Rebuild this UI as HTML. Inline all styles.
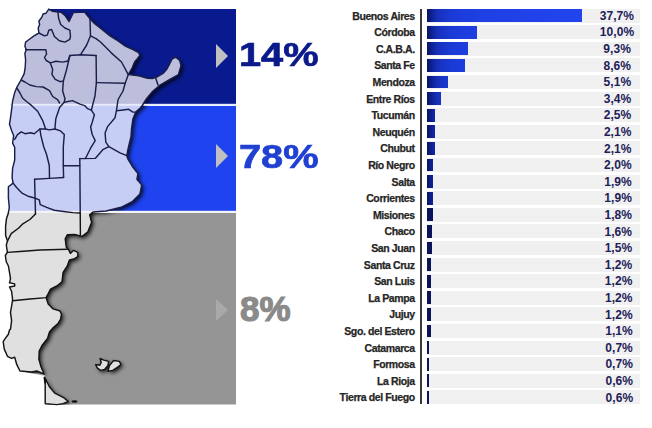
<!DOCTYPE html>
<html><head><meta charset="utf-8">
<style>
html,body{margin:0;padding:0;background:#fff;}
body{width:652px;height:428px;position:relative;overflow:hidden;font-family:"Liberation Sans",sans-serif;}
.band{position:absolute;left:427px;width:213px;height:14.2px;background:#f0f0f0;}
.bar{position:absolute;left:427.1px;height:12.8px;background:linear-gradient(to right,#081560 0px,#0e1e8c 4px,#1530b8 10px,#1b3bd8 25px,#1f40e4 60px,#2244ee 155px);background-size:155px 100%;background-repeat:no-repeat;}
.lab{position:absolute;right:237.3px;-webkit-text-stroke:0.25px #262626;font-weight:bold;font-size:10.5px;letter-spacing:-0.4px;line-height:16px;color:#262626;white-space:nowrap;}
.val{position:absolute;transform:translateX(-50%);font-weight:bold;font-size:12px;letter-spacing:0.05px;line-height:16px;color:#1c2158;white-space:nowrap;}
.axis{position:absolute;left:420.4px;top:9px;width:1.7px;height:395px;background:#383838;}
.rect{position:absolute;left:48px;width:188px;}
.pct{position:absolute;font-weight:bold;white-space:nowrap;transform-origin:0 0;-webkit-text-stroke:0.7px currentColor;}
.tri{position:absolute;width:0;height:0;border-top:12.3px solid transparent;border-bottom:12.3px solid transparent;border-left:12.5px solid #c0c0c2;}
</style></head><body>
<div class="rect" style="top:9px;height:95px;background:#091a8e"></div>
<div class="rect" style="top:105.7px;height:105px;background:#1e43ef"></div>
<svg style="position:absolute;left:0;top:0" width="652" height="428"><path d="M20 213 H236 V404.5 H45 V376 L44 374 L20 371 Z" fill="#959595"/></svg>
<svg width="652" height="428" style="position:absolute;left:0;top:0">
<defs>
<linearGradient id="mf" x1="0" y1="0" x2="0" y2="428" gradientUnits="userSpaceOnUse">
<stop offset="0" stop-color="#bcbedc"/><stop offset="0.2442" stop-color="#bcbedc"/>
<stop offset="0.2442" stop-color="#c6cef6"/><stop offset="0.4953" stop-color="#c6cef6"/>
<stop offset="0.4953" stop-color="#e0e0e0"/><stop offset="1" stop-color="#e0e0e0"/>
</linearGradient>
<filter id="sh" x="-20%" y="-20%" width="140%" height="140%">
<feGaussianBlur in="SourceAlpha" stdDeviation="2.2"/>
<feOffset dx="2" dy="2" result="b"/>
<feComponentTransfer><feFuncA type="linear" slope="0.9"/></feComponentTransfer>
</filter>
<linearGradient id="sg" x1="0" y1="0" x2="0" y2="428" gradientUnits="userSpaceOnUse"><stop offset="0" stop-color="#1a1f4a"/><stop offset="0.495" stop-color="#1a1f4a"/><stop offset="0.495" stop-color="#141418"/><stop offset="1" stop-color="#141418"/></linearGradient>
<clipPath id="rc"><path d="M48 9 H236 V404.5 H45 V376 L20 371 V213 H48 Z"/></clipPath>
</defs>
<g clip-path="url(#rc)" filter="url(#sh)">
<path d="M48.8 9.1 L52.3 11.2 L58.0 12.0 L61.0 12.2 L64.9 15.4 L69.1 21.5 L73.3 12.6 L84.5 12.1 L90.0 18.9 L95.0 23.9 L102.0 29.5 L110.0 36.0 L118.0 41.0 L125.7 46.3 L133.0 49.5 L138.6 52.7 L139.8 55.3 L137.5 58.5 L134.7 61.7 L132.1 68.1 L128.3 74.6 L138.6 75.8 L147.6 78.4 L152.4 78.5 L158.0 76.5 L163.0 73.5 L167.0 69.0 L169.4 64.3 L172.0 59.1 L175.8 57.1 L179.7 60.4 L181.0 65.6 L178.4 74.6 L169.4 79.7 L160.4 84.8 L152.7 91.3 L146.3 99.0 L142.6 105.0 L140.5 107.8 L135.7 112.1 L132.9 119.1 L131.5 128.8 L131.0 136.8 L128.9 145.2 L127.6 151.2 L126.8 155.7 L127.8 158.9 L132.2 166.2 L137.9 173.6 L136.9 179.3 L141.6 184.9 L140.5 191.5 L139.7 194.2 L132.2 201.7 L121.0 207.3 L106.1 211.0 L93.0 212.0 L89.7 214.9 L91.6 222.3 L87.9 231.7 L82.2 236.4 L74.8 234.5 L67.3 234.7 L65.2 238.9 L66.3 247.3 L68.3 249.2 L70.4 253.4 L73.6 250.3 L77.8 252.4 L77.8 256.6 L74.6 258.7 L70.4 259.7 L69.4 259.9 L67.3 266.0 L63.1 272.3 L62.0 281.8 L56.8 286.0 L50.5 289.2 L47.3 295.5 L46.1 297.5 L48.2 304.0 L53.1 308.9 L60.1 311.0 L61.5 314.5 L60.6 319.0 L58.0 323.5 L53.1 327.8 L49.5 332.0 L47.5 338.5 L42.0 345.5 L39.2 351.0 L38.9 359.4 L41.0 366.8 L44.2 374.2 L36.8 371.0 L31.5 372.0 L20.0 371.0 L16.8 364.7 L14.7 357.3 L11.6 358.4 L7.4 356.3 L4.2 348.9 L3.2 341.6 L5.3 338.4 L8.4 334.2 L9.5 330.0 L10.5 329.1 L11.6 320.7 L10.5 312.3 L11.6 306.0 L12.6 299.7 L11.6 291.3 L9.5 287.0 L14.7 286.0 L14.7 283.9 L9.5 282.8 L10.5 278.6 L9.5 272.3 L8.4 266.0 L6.3 261.8 L5.3 255.5 L7.4 252.4 L6.3 245.0 L7.5 241.0 L5.6 235.4 L5.6 226.1 L6.5 218.6 L8.4 213.0 L9.3 207.4 L8.4 198.0 L8.4 186.8 L13.1 183.1 L12.1 177.5 L12.6 168.4 L14.7 160.0 L14.7 147.3 L12.6 143.1 L13.7 135.7 L11.6 130.5 L9.5 124.2 L10.5 117.8 L11.6 109.4 L12.6 101.0 L14.7 92.6 L16.8 87.4 L21.0 80.0 L24.2 73.6 L25.2 67.3 L25.6 60.0 L24.9 53.3 L26.3 49.8 L24.9 46.3 L25.6 42.1 L28.4 40.0 L34.0 35.8 L38.9 33.0 L38.2 28.0 L39.6 24.5 L38.9 21.0 L41.7 17.5 L43.1 14.0 L45.9 13.3 Z" fill="#000"/>
<path d="M44.2 377.5 L46.3 380.5 L49.4 386.8 L54.7 393.1 L63.1 397.3 L68.3 401.5 L63.1 403.6 L56.8 404.6 L45.2 403.6 L45.2 384.7 Z" fill="#000"/>
<path d="M95.6 364.6 L97.3 364.8 L99.7 365.3 L101.2 362.5 L100.1 358.5 L103.8 360.1 L108.7 361.4 L107.9 365.5 L104.6 369.5 L100.5 370.4 L97.3 367.9 Z" fill="#000"/>
<path d="M107.9 371.2 L109.5 365.5 L113.6 360.5 L119.4 361.4 L121.0 364.6 L117.7 367.1 L112.8 370.4 Z" fill="#000"/>
</g>
<g fill="url(#mf)" stroke="none">
<path d="M48.8 9.1 L52.3 11.2 L58.0 12.0 L61.0 12.2 L64.9 15.4 L69.1 21.5 L73.3 12.6 L84.5 12.1 L90.0 18.9 L95.0 23.9 L102.0 29.5 L110.0 36.0 L118.0 41.0 L125.7 46.3 L133.0 49.5 L138.6 52.7 L139.8 55.3 L137.5 58.5 L134.7 61.7 L132.1 68.1 L128.3 74.6 L138.6 75.8 L147.6 78.4 L152.4 78.5 L158.0 76.5 L163.0 73.5 L167.0 69.0 L169.4 64.3 L172.0 59.1 L175.8 57.1 L179.7 60.4 L181.0 65.6 L178.4 74.6 L169.4 79.7 L160.4 84.8 L152.7 91.3 L146.3 99.0 L142.6 105.0 L140.5 107.8 L135.7 112.1 L132.9 119.1 L131.5 128.8 L131.0 136.8 L128.9 145.2 L127.6 151.2 L126.8 155.7 L127.8 158.9 L132.2 166.2 L137.9 173.6 L136.9 179.3 L141.6 184.9 L140.5 191.5 L139.7 194.2 L132.2 201.7 L121.0 207.3 L106.1 211.0 L93.0 212.0 L89.7 214.9 L91.6 222.3 L87.9 231.7 L82.2 236.4 L74.8 234.5 L67.3 234.7 L65.2 238.9 L66.3 247.3 L68.3 249.2 L70.4 253.4 L73.6 250.3 L77.8 252.4 L77.8 256.6 L74.6 258.7 L70.4 259.7 L69.4 259.9 L67.3 266.0 L63.1 272.3 L62.0 281.8 L56.8 286.0 L50.5 289.2 L47.3 295.5 L46.1 297.5 L48.2 304.0 L53.1 308.9 L60.1 311.0 L61.5 314.5 L60.6 319.0 L58.0 323.5 L53.1 327.8 L49.5 332.0 L47.5 338.5 L42.0 345.5 L39.2 351.0 L38.9 359.4 L41.0 366.8 L44.2 374.2 L36.8 371.0 L31.5 372.0 L20.0 371.0 L16.8 364.7 L14.7 357.3 L11.6 358.4 L7.4 356.3 L4.2 348.9 L3.2 341.6 L5.3 338.4 L8.4 334.2 L9.5 330.0 L10.5 329.1 L11.6 320.7 L10.5 312.3 L11.6 306.0 L12.6 299.7 L11.6 291.3 L9.5 287.0 L14.7 286.0 L14.7 283.9 L9.5 282.8 L10.5 278.6 L9.5 272.3 L8.4 266.0 L6.3 261.8 L5.3 255.5 L7.4 252.4 L6.3 245.0 L7.5 241.0 L5.6 235.4 L5.6 226.1 L6.5 218.6 L8.4 213.0 L9.3 207.4 L8.4 198.0 L8.4 186.8 L13.1 183.1 L12.1 177.5 L12.6 168.4 L14.7 160.0 L14.7 147.3 L12.6 143.1 L13.7 135.7 L11.6 130.5 L9.5 124.2 L10.5 117.8 L11.6 109.4 L12.6 101.0 L14.7 92.6 L16.8 87.4 L21.0 80.0 L24.2 73.6 L25.2 67.3 L25.6 60.0 L24.9 53.3 L26.3 49.8 L24.9 46.3 L25.6 42.1 L28.4 40.0 L34.0 35.8 L38.9 33.0 L38.2 28.0 L39.6 24.5 L38.9 21.0 L41.7 17.5 L43.1 14.0 L45.9 13.3 Z"/>
<path d="M44.2 377.5 L46.3 380.5 L49.4 386.8 L54.7 393.1 L63.1 397.3 L68.3 401.5 L63.1 403.6 L56.8 404.6 L45.2 403.6 L45.2 384.7 Z"/>
<path d="M95.6 364.6 L97.3 364.8 L99.7 365.3 L101.2 362.5 L100.1 358.5 L103.8 360.1 L108.7 361.4 L107.9 365.5 L104.6 369.5 L100.5 370.4 L97.3 367.9 Z"/>
<path d="M107.9 371.2 L109.5 365.5 L113.6 360.5 L119.4 361.4 L121.0 364.6 L117.7 367.1 L112.8 370.4 Z"/>
</g>
<rect x="10" y="103.8" width="226" height="1.9" fill="#e8ecfa"/>
<rect x="6" y="210.8" width="230" height="2.2" fill="#f4f4f8"/>
<g fill="none" stroke="url(#sg)" stroke-width="1.45" stroke-linejoin="round" stroke-linecap="round">
<path d="M48.8 9.1 L52.3 11.2 L58.0 12.0 L61.0 12.2 L64.9 15.4 L69.1 21.5 L73.3 12.6 L84.5 12.1 L90.0 18.9 L95.0 23.9 L102.0 29.5 L110.0 36.0 L118.0 41.0 L125.7 46.3 L133.0 49.5 L138.6 52.7 L139.8 55.3 L137.5 58.5 L134.7 61.7 L132.1 68.1 L128.3 74.6 L138.6 75.8 L147.6 78.4 L152.4 78.5 L158.0 76.5 L163.0 73.5 L167.0 69.0 L169.4 64.3 L172.0 59.1 L175.8 57.1 L179.7 60.4 L181.0 65.6 L178.4 74.6 L169.4 79.7 L160.4 84.8 L152.7 91.3 L146.3 99.0 L142.6 105.0 L140.5 107.8 L135.7 112.1 L132.9 119.1 L131.5 128.8 L131.0 136.8 L128.9 145.2 L127.6 151.2 L126.8 155.7 L127.8 158.9 L132.2 166.2 L137.9 173.6 L136.9 179.3 L141.6 184.9 L140.5 191.5 L139.7 194.2 L132.2 201.7 L121.0 207.3 L106.1 211.0 L93.0 212.0 L89.7 214.9 L91.6 222.3 L87.9 231.7 L82.2 236.4 L74.8 234.5 L67.3 234.7 L65.2 238.9 L66.3 247.3 L68.3 249.2 L70.4 253.4 L73.6 250.3 L77.8 252.4 L77.8 256.6 L74.6 258.7 L70.4 259.7 L69.4 259.9 L67.3 266.0 L63.1 272.3 L62.0 281.8 L56.8 286.0 L50.5 289.2 L47.3 295.5 L46.1 297.5 L48.2 304.0 L53.1 308.9 L60.1 311.0 L61.5 314.5 L60.6 319.0 L58.0 323.5 L53.1 327.8 L49.5 332.0 L47.5 338.5 L42.0 345.5 L39.2 351.0 L38.9 359.4 L41.0 366.8 L44.2 374.2 L36.8 371.0 L31.5 372.0 L20.0 371.0 L16.8 364.7 L14.7 357.3 L11.6 358.4 L7.4 356.3 L4.2 348.9 L3.2 341.6 L5.3 338.4 L8.4 334.2 L9.5 330.0 L10.5 329.1 L11.6 320.7 L10.5 312.3 L11.6 306.0 L12.6 299.7 L11.6 291.3 L9.5 287.0 L14.7 286.0 L14.7 283.9 L9.5 282.8 L10.5 278.6 L9.5 272.3 L8.4 266.0 L6.3 261.8 L5.3 255.5 L7.4 252.4 L6.3 245.0 L7.5 241.0 L5.6 235.4 L5.6 226.1 L6.5 218.6 L8.4 213.0 L9.3 207.4 L8.4 198.0 L8.4 186.8 L13.1 183.1 L12.1 177.5 L12.6 168.4 L14.7 160.0 L14.7 147.3 L12.6 143.1 L13.7 135.7 L11.6 130.5 L9.5 124.2 L10.5 117.8 L11.6 109.4 L12.6 101.0 L14.7 92.6 L16.8 87.4 L21.0 80.0 L24.2 73.6 L25.2 67.3 L25.6 60.0 L24.9 53.3 L26.3 49.8 L24.9 46.3 L25.6 42.1 L28.4 40.0 L34.0 35.8 L38.9 33.0 L38.2 28.0 L39.6 24.5 L38.9 21.0 L41.7 17.5 L43.1 14.0 L45.9 13.3 Z"/>
<path d="M44.2 377.5 L46.3 380.5 L49.4 386.8 L54.7 393.1 L63.1 397.3 L68.3 401.5 L63.1 403.6 L56.8 404.6 L45.2 403.6 L45.2 384.7 Z"/>
<path d="M95.6 364.6 L97.3 364.8 L99.7 365.3 L101.2 362.5 L100.1 358.5 L103.8 360.1 L108.7 361.4 L107.9 365.5 L104.6 369.5 L100.5 370.4 L97.3 367.9 Z"/>
<path d="M107.9 371.2 L109.5 365.5 L113.6 360.5 L119.4 361.4 L121.0 364.6 L117.7 367.1 L112.8 370.4 Z"/>
<path d="M57.9 12.0 L58.6 18.2 L60.7 24.5 L64.9 28.0 L69.8 30.2 L70.5 36.5 L69.8 39.3 L64.9 42.1 L59.3 40.7 L54.4 36.5 L51.6 29.5 L48.8 30.2 L47.3 35.1 L44.5 35.8 L38.9 33.0"/>
<path d="M90.0 18.9 L90.5 35.8 L86.7 45.0 L80.6 54.7"/>
<path d="M90.5 35.8 L96.0 38.6 L100.5 42.0 L111.0 52.6 L121.5 62.0 L128.3 74.6"/>
<path d="M25.6 49.8 L45.9 49.8 L46.6 54.0 L44.5 57.5 L46.2 60.5 L50.3 62.9 L56.0 61.3 L62.6 62.1 L68.0 61.0 L69.9 55.5 L80.6 54.7 L96.1 55.5"/>
<path d="M69.9 55.5 L66.6 69.5 L63.4 80.9 L62.6 90.7 L65.0 98.9 L64.2 102.2 L59.6 107.5 L55.8 118.7 L54.9 129.0"/>
<path d="M50.3 62.9 L52.7 69.5 L51.9 74.4 L55.2 79.3 L60.1 81.7 L63.4 80.9"/>
<path d="M21.0 80.0 L24.9 82.0 L29.8 85.0 L36.4 86.6 L43.0 87.0 L49.5 90.7 L52.7 96.5 L57.6 99.7 L59.6 103.0"/>
<path d="M16.8 88.0 L20.0 93.0 L22.5 98.0 L26.5 101.5 L31.5 105.4 L37.8 111.5 L42.7 120.6 L45.6 129.0 L49.3 129.9 L54.9 129.0"/>
<path d="M14.7 139.3 L17.5 134.6 L21.2 131.8 L25.0 133.7 L30.6 132.7 L34.3 133.7 L39.9 129.0 L45.6 129.0"/>
<path d="M39.9 129.0 L40.9 135.6 L43.7 146.8 L46.5 154.3 L49.3 165.5 L49.5 178.4"/>
<path d="M54.9 129.0 L60.5 130.9 L64.3 134.6 L63.3 146.8 L63.3 165.5 L63.6 177.5"/>
<path d="M34.6 179.3 L49.5 178.4 L63.6 177.5"/>
<path d="M34.6 179.3 L35.5 213.9"/>
<path d="M63.3 165.8 L79.8 165.8"/>
<path d="M79.8 158.6 L80.4 235.4"/>
<path d="M79.8 158.6 L95.2 158.4 L102.8 149.7 L108.9 146.7 L120.0 152.8 L126.8 155.7"/>
<path d="M91.4 110.2 L94.4 114.8 L92.2 122.4 L90.6 126.9 L92.2 134.5 L95.2 140.6 L90.6 148.2 L86.1 157.3 L85.0 158.6"/>
<path d="M64.2 102.2 L72.4 100.6 L80.0 104.1 L84.6 105.6 L87.6 108.7 L91.4 110.2"/>
<path d="M96.1 55.5 L96.4 82.6 L95.0 96.0 L92.9 104.1 L91.4 110.2"/>
<path d="M96.4 82.6 L125.2 83.3 L128.3 74.6"/>
<path d="M125.2 83.3 L123.0 91.0 L118.1 99.5 L116.5 110.2 L115.0 117.8 L107.4 126.9 L105.1 133.0 L105.8 142.1 L108.9 146.7"/>
<path d="M116.7 110.7 L123.0 110.0 L128.7 109.3 L132.9 112.1 L135.7 112.1"/>
<path d="M155.5 77.5 L158.0 85.0"/>
<path d="M13.1 183.1 L16.8 187.8 L22.4 193.4 L28.0 196.2 L34.6 198.0 L39.3 199.9 L40.2 204.6 L46.7 207.4 L54.2 210.2 L63.6 211.5 L72.9 212.6 L79.9 213.0"/>
<path d="M35.5 213.9 L29.9 219.5 L22.4 224.2 L18.7 228.0 L11.2 233.6 L7.5 241.0"/>
<path d="M7.4 252.4 L20.0 251.5 L40.0 250.0 L67.3 249.2"/>
<path d="M12.6 300.7 L30.0 299.0 L46.3 297.6 L47.3 295.5"/>
</g>
<path d="M44 376 L46.5 379 L46 384 L44.5 383 Z" fill="#111"/>
<ellipse cx="74.5" cy="401.5" rx="3" ry="1.3" fill="#111"/>
</svg>
<div class="tri" style="left:215.8px;top:44.2px"></div>
<div class="tri" style="left:215.8px;top:144.3px"></div>
<div class="tri" style="left:215.6px;top:298.8px;border-top-width:11px;border-bottom-width:11px;border-left-color:#a9a9a9"></div>
<div class="pct" style="left:239px;top:35.3px;font-size:34px;line-height:38px;color:#0b1a8a;transform:scaleX(1.17)">14%</div>
<div class="pct" style="left:238.9px;top:137.3px;font-size:34px;line-height:38px;color:#2040d2;transform:scaleX(1.17)">78%</div>
<div class="pct" style="left:240px;top:290.3px;font-size:35px;line-height:38px;color:#8a8a8a;-webkit-text-stroke:1.1px #8a8a8a;">8%</div>
<div class="axis"></div>
<div class="band" style="top:8.50px"></div>
<div class="bar" style="top:9.20px;width:154.90px"></div>
<div class="lab" style="top:7.60px">Buenos Aires</div>
<div class="val" style="top:7.70px;left:616.90px">37,7%</div>
<div class="band" style="top:25.10px"></div>
<div class="bar" style="top:25.80px;width:50.20px"></div>
<div class="lab" style="top:24.20px">Córdoba</div>
<div class="val" style="top:24.30px;left:617.01px">10,0%</div>
<div class="band" style="top:41.70px"></div>
<div class="bar" style="top:42.40px;width:41.40px"></div>
<div class="lab" style="top:40.80px">C.A.B.A.</div>
<div class="val" style="top:40.90px;left:617.12px">9,3%</div>
<div class="band" style="top:58.30px"></div>
<div class="bar" style="top:59.00px;width:37.50px"></div>
<div class="lab" style="top:57.40px">Santa Fe</div>
<div class="val" style="top:57.50px;left:617.23px">8,6%</div>
<div class="band" style="top:74.90px"></div>
<div class="bar" style="top:75.60px;width:21.00px"></div>
<div class="lab" style="top:74.00px">Mendoza</div>
<div class="val" style="top:74.10px;left:617.33px">5,1%</div>
<div class="band" style="top:91.50px"></div>
<div class="bar" style="top:92.20px;width:14.40px"></div>
<div class="lab" style="top:90.60px">Entre Ríos</div>
<div class="val" style="top:90.70px;left:617.44px">3,4%</div>
<div class="band" style="top:108.10px"></div>
<div class="bar" style="top:108.80px;width:8.00px"></div>
<div class="lab" style="top:107.20px">Tucumán</div>
<div class="val" style="top:107.30px;left:617.55px">2,5%</div>
<div class="band" style="top:124.70px"></div>
<div class="bar" style="top:125.40px;width:7.50px"></div>
<div class="lab" style="top:123.80px">Neuquén</div>
<div class="val" style="top:123.90px;left:617.66px">2,1%</div>
<div class="band" style="top:141.30px"></div>
<div class="bar" style="top:142.00px;width:7.50px"></div>
<div class="lab" style="top:140.40px">Chubut</div>
<div class="val" style="top:140.50px;left:617.77px">2,1%</div>
<div class="band" style="top:157.90px"></div>
<div class="bar" style="top:158.60px;width:6.40px"></div>
<div class="lab" style="top:157.00px">Río Negro</div>
<div class="val" style="top:157.10px;left:617.88px">2,0%</div>
<div class="band" style="top:174.50px"></div>
<div class="bar" style="top:175.20px;width:5.90px"></div>
<div class="lab" style="top:173.60px">Salta</div>
<div class="val" style="top:173.70px;left:617.99px">1,9%</div>
<div class="band" style="top:191.10px"></div>
<div class="bar" style="top:191.80px;width:5.90px"></div>
<div class="lab" style="top:190.20px">Corrientes</div>
<div class="val" style="top:190.30px;left:618.10px">1,9%</div>
<div class="band" style="top:207.70px"></div>
<div class="bar" style="top:208.40px;width:5.90px;background:#0b1458"></div>
<div class="lab" style="top:206.80px">Misiones</div>
<div class="val" style="top:206.90px;left:618.20px">1,8%</div>
<div class="band" style="top:224.30px"></div>
<div class="bar" style="top:225.00px;width:5.30px;background:#0b1458"></div>
<div class="lab" style="top:223.40px">Chaco</div>
<div class="val" style="top:223.50px;left:618.31px">1,6%</div>
<div class="band" style="top:240.90px"></div>
<div class="bar" style="top:241.60px;width:5.30px;background:#0b1458"></div>
<div class="lab" style="top:240.00px">San Juan</div>
<div class="val" style="top:240.10px;left:618.42px">1,5%</div>
<div class="band" style="top:257.50px"></div>
<div class="bar" style="top:258.20px;width:3.90px;background:#0b1458"></div>
<div class="lab" style="top:256.60px">Santa Cruz</div>
<div class="val" style="top:256.70px;left:618.53px">1,2%</div>
<div class="band" style="top:274.10px"></div>
<div class="bar" style="top:274.80px;width:3.90px;background:#0b1458"></div>
<div class="lab" style="top:273.20px">San Luis</div>
<div class="val" style="top:273.30px;left:618.64px">1,2%</div>
<div class="band" style="top:290.70px"></div>
<div class="bar" style="top:291.40px;width:3.90px;background:#0b1458"></div>
<div class="lab" style="top:289.80px">La Pampa</div>
<div class="val" style="top:289.90px;left:618.75px">1,2%</div>
<div class="band" style="top:307.30px"></div>
<div class="bar" style="top:308.00px;width:3.90px;background:#0b1458"></div>
<div class="lab" style="top:306.40px">Jujuy</div>
<div class="val" style="top:306.50px;left:618.86px">1,2%</div>
<div class="band" style="top:323.90px"></div>
<div class="bar" style="top:324.60px;width:3.90px;background:#0b1458"></div>
<div class="lab" style="top:323.00px">Sgo. del Estero</div>
<div class="val" style="top:323.10px;left:618.97px">1,1%</div>
<div class="band" style="top:340.50px"></div>
<div class="bar" style="top:341.20px;width:2.40px;background:#0b1458"></div>
<div class="lab" style="top:339.60px">Catamarca</div>
<div class="val" style="top:339.70px;left:619.07px">0,7%</div>
<div class="band" style="top:357.10px"></div>
<div class="bar" style="top:357.80px;width:2.40px;background:#0b1458"></div>
<div class="lab" style="top:356.20px">Formosa</div>
<div class="val" style="top:356.30px;left:619.18px">0,7%</div>
<div class="band" style="top:373.70px"></div>
<div class="bar" style="top:374.40px;width:2.10px;background:#0b1458"></div>
<div class="lab" style="top:372.80px">La Rioja</div>
<div class="val" style="top:372.90px;left:619.29px">0,6%</div>
<div class="band" style="top:390.30px"></div>
<div class="bar" style="top:391.00px;width:2.10px;background:#0b1458"></div>
<div class="lab" style="top:389.40px">Tierra del Fuego</div>
<div class="val" style="top:389.50px;left:619.40px">0,6%</div>
</body></html>
